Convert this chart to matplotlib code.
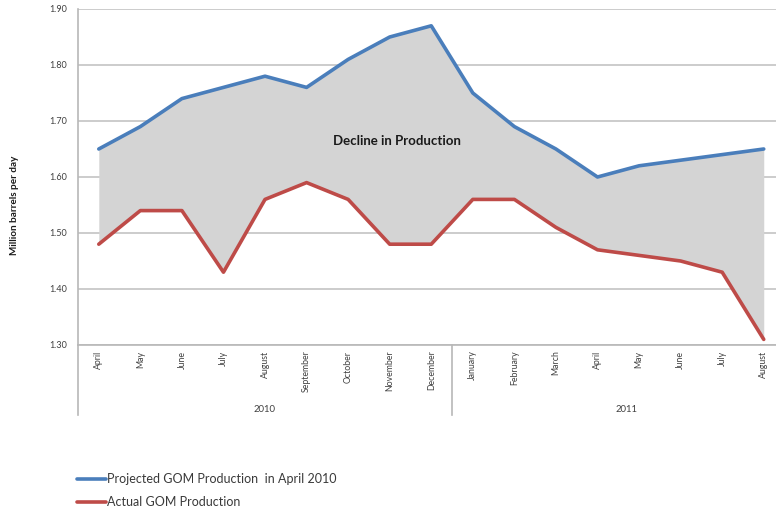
import numpy as np
import matplotlib
matplotlib.use('Agg')
import matplotlib.pyplot as plt
from matplotlib.lines import Line2D

plt.rcParams['font.family'] = ['Lato', 'DejaVu Sans']

# === Data ===
months = ['April', 'May', 'June', 'July', 'August', 'September', 'October',
          'November', 'December', 'January', 'February', 'March', 'April',
          'May', 'June', 'July', 'August']
years = ['2010', '2011']
projected = [1.65, 1.69, 1.74, 1.76, 1.78, 1.76, 1.81, 1.85, 1.87,
             1.75, 1.69, 1.65, 1.60, 1.62, 1.63, 1.64, 1.65]
actual = [1.48, 1.54, 1.54, 1.43, 1.56, 1.59, 1.56, 1.48, 1.48,
          1.56, 1.56, 1.51, 1.47, 1.46, 1.45, 1.43, 1.31]
yticks = [1.30, 1.40, 1.50, 1.60, 1.70, 1.80, 1.90]

W, H = 776, 512
fig = plt.figure(figsize=(W / 100, H / 100), dpi=100)
ax = fig.add_axes([78 / W, 1 - 345 / H, (776 - 78) / W, (345 - 9) / H])

x = np.arange(len(months))
ax.fill_between(x, actual, projected, color='#d4d4d4', lw=0, zorder=1)
ax.plot(x, projected, color='#4a7ebb', lw=2.6, solid_capstyle='round',
        label='Projected GOM Production  in April 2010', zorder=3)
ax.plot(x, actual, color='#be4b48', lw=2.6, solid_capstyle='round',
        label='Actual GOM Production', zorder=3)

slot = 41.56
ax.set_xlim(-0.5, -0.5 + (776 - 78) / slot)
ax.set_ylim(1.30, 1.90)
ax.set_yticks(yticks)
ax.set_yticklabels(['%.2f' % v for v in yticks], fontsize=6.5, color='#404040')
ax.yaxis.grid(True, color='#c4c4c4', lw=1.2, zorder=0)
ax.set_axisbelow(True)
ax.tick_params(axis='y', length=0, pad=8)

ax.set_xticks(x)
ax.set_xticklabels(months, rotation=90, fontsize=6.3, color='#404040', va='top')
ax.tick_params(axis='x', length=0, pad=4)

for s in ['top', 'right']:
    ax.spines[s].set_visible(False)
for s in ['left', 'bottom']:
    ax.spines[s].set_color('#b8b8b8')
    ax.spines[s].set_linewidth(1.2)

# category group lines below the axis
ext = -(415 - 345) / (345 - 9)
trans = ax.get_xaxis_transform()
ax.add_line(Line2D([-0.5, -0.5], [0, ext], transform=trans, color='#b8b8b8',
                   lw=1.2, clip_on=False))
ax.add_line(Line2D([8.5, 8.5], [0, ext], transform=trans, color='#b8b8b8',
                   lw=1.2, clip_on=False))
ax.text(4, -(410 - 345) / (345 - 9), years[0], transform=trans, ha='center',
        va='center', fontsize=6.8, color='#404040')
ax.text(12.7, -(410 - 345) / (345 - 9), years[1], transform=trans, ha='center',
        va='center', fontsize=6.8, color='#404040')

ax.text(7.18, 1.664, 'Decline in Production', ha='center', va='center',
        fontsize=9.5, fontweight='bold', color='#1a1a1a', zorder=4)

fig.text(15 / W, 1 - 205 / H, 'Million barrels per day', rotation=90,
         ha='center', va='center', fontsize=7.2, fontweight='bold', color='#1a1a1a')

fig.legend(loc='upper left', bbox_to_anchor=(66 / W, 1 - 462 / H), frameon=False,
           fontsize=9, handlelength=2.3, handletextpad=0.1, labelspacing=0.9,
           labelcolor='#3a3a3a')

plt.savefig('out.png', dpi=100)
